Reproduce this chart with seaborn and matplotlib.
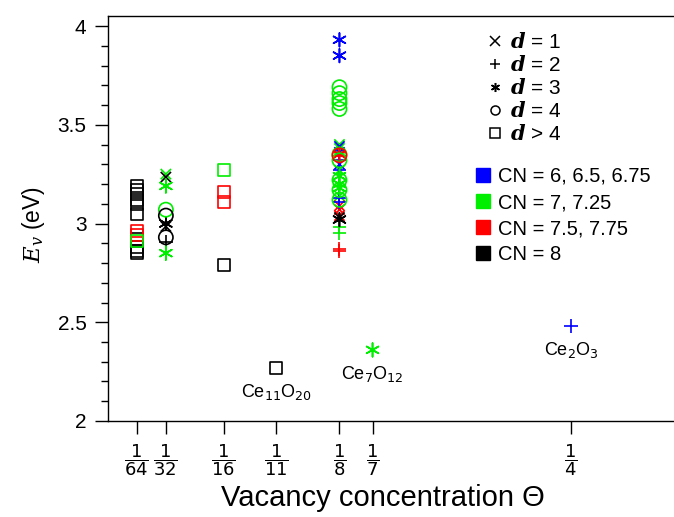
import numpy as np
import pandas as pd
import matplotlib
matplotlib.use("Agg")
import matplotlib.pyplot as plt
import seaborn as sns
from matplotlib.lines import Line2D
from matplotlib.ticker import MultipleLocator, FixedLocator, FixedFormatter

# ---------------- data ----------------
# vacancy concentration (theta), vacancy formation energy (eV), distance class d, CN group
theta_64 = [1/64] * 13
ev_64 = [3.19, 3.17, 3.15, 3.12, 3.10, 3.05, 2.92, 2.88, 2.86, 2.85, 2.96, 2.94, 2.91]
d_64 = [">4"] * 13
cn_64 = ["8"] * 10 + ["7.5", "7.5", "7"]

theta_32 = [1/32] * 10
ev_32 = [3.25, 3.235, 3.19, 3.07, 3.04, 3.00, 2.985, 2.93, 2.905, 2.85]
d_32 = ["1", "1", "3", "4", "4", "3", "1", "4", "2", "3"]
cn_32 = ["7", "8", "7", "7", "8", "8", "8", "8", "8", "7"]

theta_16 = [1/16] * 4
ev_16 = [3.27, 3.16, 3.11, 2.79]
d_16 = [">4"] * 4
cn_16 = ["7", "7.5", "7.5", "8"]

theta_8 = [1/8] * 37
ev_8 = [3.93, 3.85,
        3.69, 3.66, 3.63, 3.61, 3.58, 3.35, 3.32, 3.22, 3.17, 3.12,
        3.40, 3.38, 3.27, 3.14,
        3.39, 3.36, 3.30,
        3.35, 3.34, 3.345,
        3.32, 3.27, 3.19, 3.13, 3.11,
        3.24, 3.20, 3.18,
        3.09, 3.07, 3.04,
        3.02, 3.03,
        2.98, 2.95]
d_8 = ["3", "3",
       "4", "4", "4", "4", "4", "4", "4", "4", "4", "4",
       "1", "1", "1", "1",
       "1", "1", "1",
       "3", "2", "4",
       "2", "2", "2", "2", "2",
       "3", "3", "3",
       "1", "1", "1",
       "3", "1",
       "2", "2"]
cn_8 = ["6", "6",
        "7", "7", "7", "7", "7", "7", "7", "7", "7", "7",
        "7", "7", "7", "7",
        "6", "6", "6",
        "7.5", "7.5", "7.5",
        "6", "6", "6", "6", "6",
        "7", "7", "7",
        "7.5", "7.5", "7.5",
        "8", "8",
        "7", "7"]
theta_8b = [1/8, 1/8]
ev_8b = [2.87, 2.86]
d_8b = ["2", "2"]
cn_8b = ["7.5", "7.5"]

theta_other = [1/11, 1/7, 1/4]
ev_other = [2.27, 2.36, 2.48]
d_other = [">4", "3", "2"]
cn_other = ["8", "7", "6"]
labels_other = [r"Ce$_{11}$O$_{20}$", r"Ce$_7$O$_{12}$", r"Ce$_2$O$_3$"]

tick_vals = [1/64, 1/32, 1/16, 1/11, 1/8, 1/7, 1/4]
tick_dens = ["64", "32", "16", "11", "8", "7", "4"]

d_levels = ["1", "2", "3", "4", ">4"]
d_labels = [r"$\mathbf{d}$ = 1", r"$\mathbf{d}$ = 2", r"$\mathbf{d}$ = 3",
            r"$\mathbf{d}$ = 4", r"$\mathbf{d}$ > 4"]
cn_levels = ["6", "7", "7.5", "8"]
cn_labels = ["CN = 6, 6.5, 6.75", "CN = 7, 7.25", "CN = 7.5, 7.75", "CN = 8"]
cn_colors = ["#0000ff", "#00ee00", "#ff0000", "#000000"]

df = pd.DataFrame({
    "theta": theta_64 + theta_32 + theta_16 + theta_8 + theta_8b + theta_other,
    "ev": ev_64 + ev_32 + ev_16 + ev_8 + ev_8b + ev_other,
    "d": d_64 + d_32 + d_16 + d_8 + d_8b + d_other,
    "cn": cn_64 + cn_32 + cn_16 + cn_8 + cn_8b + cn_other,
})

# ---------------- style ----------------
sns.set_theme(style="ticks")
plt.rcParams["font.family"] = ["Liberation Sans", "DejaVu Sans"]
plt.rcParams["mathtext.fontset"] = "custom"
plt.rcParams["mathtext.rm"] = "DejaVu Sans"
plt.rcParams["mathtext.it"] = "DejaVu Serif:italic"
plt.rcParams["mathtext.bf"] = "DejaVu Serif:italic:bold"
plt.rcParams["axes.edgecolor"] = "black"
plt.rcParams["axes.labelcolor"] = "black"
plt.rcParams["text.color"] = "black"
plt.rcParams["xtick.color"] = "black"
plt.rcParams["ytick.color"] = "black"

W, H = 674, 517
fig = plt.figure(figsize=(W / 100, H / 100), dpi=100)
L, R, T, B = 108, 676, 16, 421
ax = fig.add_axes([L / W, (H - B) / H, (R - L) / W, (B - T) / H])

palette = dict(zip(cn_levels, cn_colors))
marker_map = {"1": "x", "2": "+", "3": (6, 2, 0), "4": "o", ">4": "s"}
size_map = {"1": 55, "2": 95, "3": 95, "4": 105, ">4": 75}

for lev in d_levels:
    sub = df[df["d"] == lev]
    if sub.empty:
        continue
    sns.scatterplot(data=sub, x="theta", y="ev", hue="cn", palette=palette,
                    marker=marker_map[lev], s=size_map[lev], linewidth=1.2,
                    legend=False, ax=ax)
    coll = ax.collections[-1]
    if lev in ("4", ">4"):
        fc = coll.get_facecolors()
        coll.set_edgecolors(fc)
        coll.set_facecolors("none")

for tx, ty, lab in zip(theta_other, ev_other, labels_other):
    ax.annotate(lab, xy=(tx, ty), xytext=(0, -10), textcoords="offset points",
                ha="center", va="top", fontsize=13, color="black")

ax.set_xlim(0, (R - L) / 1851.7)
ax.set_ylim(2, 2 + (B - T) / 197.5)

ax.xaxis.set_major_locator(FixedLocator(tick_vals))
ax.xaxis.set_major_formatter(FixedFormatter([r"$\dfrac{1}{%s}$" % d for d in tick_dens]))
ax.yaxis.set_major_locator(FixedLocator([2, 2.5, 3, 3.5, 4]))
ax.yaxis.set_major_formatter(FixedFormatter(["2", "2.5", "3", "3.5", "4"]))
ax.yaxis.set_minor_locator(MultipleLocator(0.1))
ax.tick_params(axis="x", which="major", direction="out", length=9, width=1, labelsize=13, pad=6.5)
ax.tick_params(axis="y", which="major", direction="out", length=9.5, width=1, labelsize=15, pad=6)
ax.tick_params(axis="y", which="minor", direction="out", length=5, width=1)
for sp in ax.spines.values():
    sp.set_linewidth(1)
    sp.set_color("black")

ax.set_xlabel("Vacancy concentration \u0398", fontsize=21, color="black")
ax.set_ylabel(r"$E_{v}$ (eV)", fontsize=16.5, color="black")
ax.xaxis.set_label_coords(0.484, -0.156)
ax.yaxis.set_label_coords(-0.107, 0.484)

# legends
h1 = [Line2D([], [], linestyle="none", marker=marker_map[l], color="black",
             markerfacecolor="none", markersize=6.5, markeredgewidth=1.1) for l in d_levels]
leg1 = fig.legend(h1, d_labels, loc="upper left", bbox_to_anchor=(487 / W, 1 - 32 / H),
                  frameon=False, fontsize=15, handlelength=0.8, handletextpad=0.32,
                  labelspacing=0.15, borderpad=0, borderaxespad=0, labelcolor="black")
h2 = [Line2D([], [], linestyle="none", marker="s", color=c, markersize=10) for c in cn_colors]
leg2 = fig.legend(h2, cn_labels, loc="upper left", bbox_to_anchor=(475 / W, 1 - 167 / H),
                  frameon=False, fontsize=14.5, handlelength=0.8, handletextpad=0.35,
                  labelspacing=0.35, borderpad=0, borderaxespad=0, labelcolor="black")

fig.savefig("out.png", dpi=100)
